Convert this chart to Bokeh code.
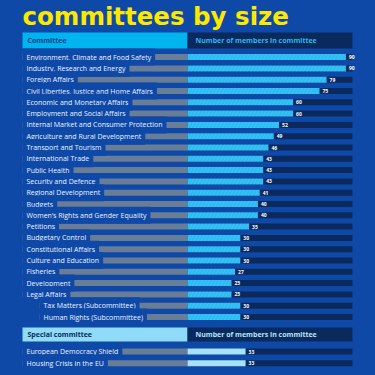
from bokeh.plotting import figure
from bokeh.models import Range1d
from bokeh.embed import file_html
from bokeh.resources import INLINE
from bokeh.core.properties import value

# ---------------- data ----------------
title_text = "committees by size"
header_left = "Committee"
header_right = "Number of members in committee"
committees = [
    "Environment, Climate and Food Safety",
    "Industry, Research and Energy",
    "Foreign Affairs",
    "Civil Liberties, Justice and Home Affairs",
    "Economic and Monetary Affairs",
    "Employment and Social Affairs",
    "Internal Market and Consumer Protection",
    "Agriculture and Rural Development",
    "Transport and Tourism",
    "International Trade",
    "Public Health",
    "Security and Defence",
    "Regional Development",
    "Budgets",
    "Women\u2019s Rights and Gender Equality",
    "Petitions",
    "Budgetary Control",
    "Constitutional Affairs",
    "Culture and Education",
    "Fisheries",
    "Development",
    "Legal Affairs",
    "Tax Matters (Subcommittee)",
    "Human Rights (Subcommittee)",
]
members = [90, 90, 79, 75, 60, 60, 52, 49, 46, 43, 43, 43, 41, 40, 40, 35,
           30, 30, 30, 27, 25, 25, 30, 30]
is_sub = [0] * 22 + [1, 1]

special_header = "Special committee"
special_committees = ["European Democracy Shield", "Housing Crisis in the EU"]
special_members = [33, 33]

# ---------------- style ----------------
BG = "#0f49a8"
TRACK = "#0a2a5e"
GREY = "#6a7d97"
CYAN = "#2bbcf2"
LIGHT = "#a6e2fa"
HEAD_CYAN = "#00b4ef"
HEAD_TXT = "#0b3a8a"
YELLOW = "#ffe800"
FONT = value("Open Sans")

SCALE = 1.76      # px per member
ZERO_PX = 187     # px position of zero
W = H = 375


def X(px):
    return (px - ZERO_PX) / SCALE


TRACK_MAX = X(352)

p = figure(width=W, height=H, x_range=Range1d(X(0), X(W)),
           y_range=Range1d(H, 0), output_backend="svg",
           toolbar_location=None, min_border=0,
           x_axis_type=None, y_axis_type=None)
p.background_fill_color = BG
p.border_fill_color = BG
p.outline_line_color = None
p.grid.visible = False

# title
p.text(x=[X(22)], y=[15.5], text=[title_text], text_font=value("DejaVu Sans"),
       text_font_size="24.5px", text_font_style="bold", text_color=YELLOW,
       text_baseline="alphabetic")

# header
p.quad(left=[X(22)], right=[0], top=[32], bottom=[48], fill_color=HEAD_CYAN, line_color=None)
p.quad(left=[0], right=[TRACK_MAX], top=[32], bottom=[48], fill_color=TRACK, line_color=None)
p.text(x=[X(27)], y=[40], text=[header_left], text_font=FONT, text_font_size="7px",
       text_font_style="bold", text_color=HEAD_TXT, text_baseline="middle")
p.text(x=[X(195)], y=[40], text=[header_right], text_font=FONT, text_font_size="7px",
       text_font_style="bold", text_color="#2db6ef", text_baseline="middle")

ROW0, STEP, BH = 56.6, 11.3, 6


def draw_rows(names, vals, ys, xs, color):
    p.hbar(y=ys, left=0, right=TRACK_MAX, height=BH, fill_color=TRACK, line_color=None)
    p.hbar(y=ys, left=xs, right=0, height=BH, fill_color=GREY, line_color=None)
    p.hbar(y=ys, left=0, right=vals, height=BH, fill_color=color, line_color=None,
           hatch_pattern="/", hatch_color="#9fe4ff", hatch_alpha=0.35,
           hatch_scale=7, hatch_weight=0.5)
    p.text(x=xs, y=ys, text=names, text_font=FONT, text_font_size="7px",
           text_color="#eef4ff", text_baseline="middle",
           background_fill_color=BG, padding=4)
    p.text(x=[v + 3 / SCALE for v in vals], y=ys, text=[str(v) for v in vals],
           text_font=FONT, text_font_size="5px", text_font_style="bold",
           text_color="white", text_baseline="middle")


ys = [ROW0 + STEP * i for i in range(len(committees))]
xs = [X(22 + 17 * s) for s in is_sub]
draw_rows(committees, members, ys, xs, CYAN)

# special committee section
p.quad(left=[X(22)], right=[0], top=[327], bottom=[341], fill_color="#90dbf8", line_color=None)
p.quad(left=[0], right=[TRACK_MAX], top=[327], bottom=[341], fill_color=TRACK, line_color=None)
p.text(x=[X(27)], y=[334], text=[special_header], text_font=FONT, text_font_size="7px",
       text_font_style="bold", text_color=TRACK, text_baseline="middle")
p.text(x=[X(195)], y=[334], text=[header_right], text_font=FONT, text_font_size="7px",
       text_font_style="bold", text_color="#b5e5f8", text_baseline="middle")

sys_ = [351 + 11.7 * i for i in range(len(special_committees))]
sxs = [X(22)] * len(special_committees)
draw_rows(special_committees, special_members, sys_, sxs, LIGHT)

html = file_html(p, INLINE)
html = html.replace("</head>", "<style>body{background:%s;margin:0;}</style></head>" % BG, 1)
open("out.html", "w").write(html)
